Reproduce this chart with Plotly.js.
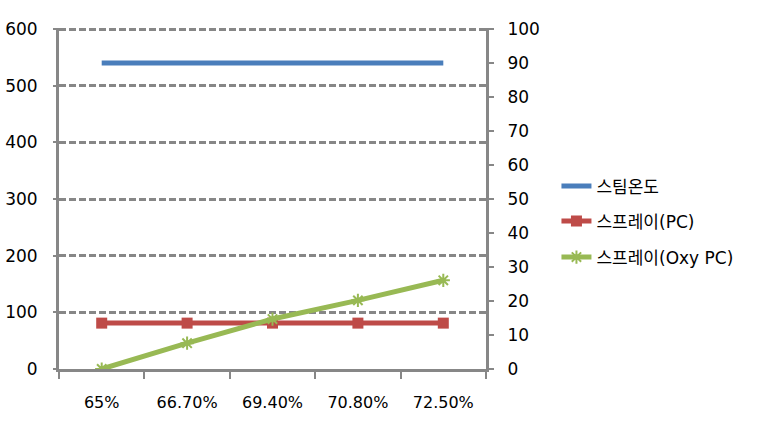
<!DOCTYPE html>
<html>
<head>
<meta charset="utf-8">
<script src="https://cdn.plot.ly/plotly-3.0.1.min.js"></script>
<style>html,body{margin:0;padding:0;background:#fff;}#chart{width:761px;height:426px;}</style>
</head>
<body>
<div id="chart"></div>
<script>
const categories = ['65%', '66.70%', '69.40%', '70.80%', '72.50%'];
const steamTemp = [540, 540, 540, 540, 540];
const sprayPC = [81, 81, 81, 81, 81];
const sprayOxyPC = [0, 7.6, 14.7, 20.2, 26.1];
const seriesNames = ['스팀온도', '스프레이(PC)', '스프레이(Oxy PC)'];

const FONT = 'DejaVu Sans, Noto Sans CJK KR, sans-serif';
const GRAY = '#878787';

const traces = [
  {x: categories, y: steamTemp, name: seriesNames[0], type: 'scatter', mode: 'lines',
   line: {color: '#4A7EBB', width: 5}, legend: 'legend'},
  {x: categories, y: sprayPC, name: seriesNames[1], type: 'scatter', mode: 'lines+markers',
   line: {color: '#BE4B48', width: 5}, marker: {symbol: 'square', size: 11, color: '#BE4B48'}, legend: 'legend2'},
  {x: categories, y: sprayOxyPC, name: seriesNames[2], type: 'scatter', mode: 'lines+markers', yaxis: 'y2',
   line: {color: '#98B954', width: 5}, marker: {symbol: 'asterisk-open', size: 11, color: '#98B954', line: {color: '#98B954', width: 2}}, legend: 'legend3'}
];

const legBase = {xanchor: 'left', yanchor: 'middle', bgcolor: 'rgba(0,0,0,0)', font: {family: FONT, size: 17, color: '#000'}};

const layout = {
  width: 761, height: 426,
  margin: {l: 59, r: 275, t: 28, b: 57},
  paper_bgcolor: '#fff', plot_bgcolor: '#fff',
  font: {family: FONT, size: 16, color: '#000'},
  showlegend: true,
  xaxis: {type: 'category', range: [-0.5, 4.5], tickson: 'boundaries', ticks: 'outside', ticklen: 7,
          tickwidth: 2, tickcolor: GRAY, showline: true, linecolor: GRAY, linewidth: 3, showgrid: false,
          zeroline: false, ticklabelstandoff: 17, tickfont: {family: FONT, size: 16}},
  yaxis: {range: [0, 602], tickvals: [0, 100, 200, 300, 400, 500, 600], showgrid: true, gridcolor: GRAY, gridwidth: 3, griddash: '7px,3px',
          showline: true, linecolor: GRAY, linewidth: 3, ticks: 'outside', ticklen: 3, tickwidth: 2, tickcolor: GRAY,
          zeroline: false, ticklabelstandoff: 12, tickfont: {family: FONT, size: 17}},
  yaxis2: {range: [0, 100.333], tickvals: [0, 10, 20, 30, 40, 50, 60, 70, 80, 90, 100], overlaying: 'y', side: 'right', showgrid: false,
           showline: true, linecolor: GRAY, linewidth: 3, ticks: 'outside', ticklen: 5, tickwidth: 2, tickcolor: GRAY,
           zeroline: false, ticklabelstandoff: 10, tickfont: {family: FONT, size: 17}},
  legend: Object.assign({x: 1.165, y: 0.535}, legBase),
  legend2: Object.assign({x: 1.165, y: 0.433}, legBase),
  legend3: Object.assign({x: 1.165, y: 0.327}, legBase)
};

Plotly.newPlot('chart', traces, layout, {displayModeBar: false, staticPlot: true});
</script>
</body>
</html>
